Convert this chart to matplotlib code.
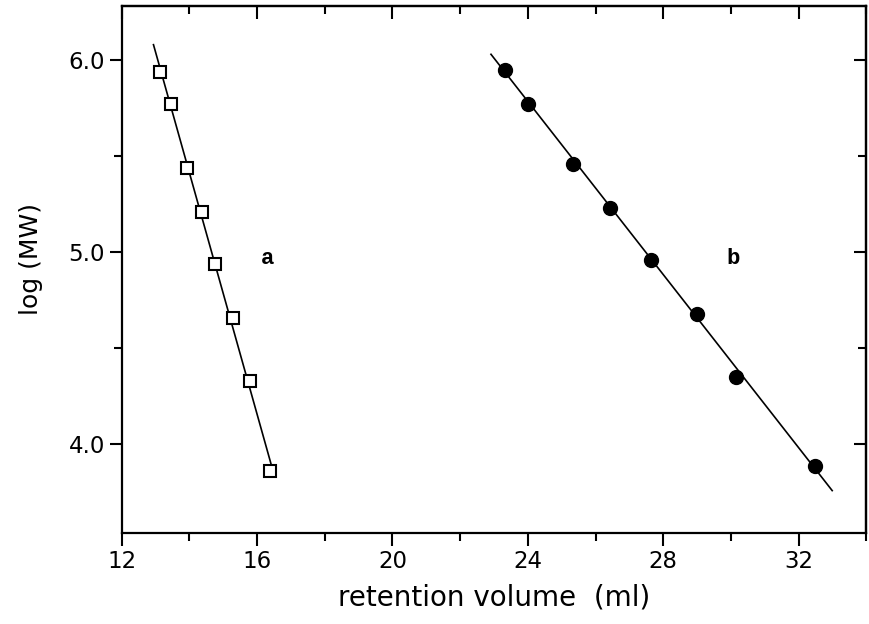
import matplotlib
matplotlib.use("Agg")
import matplotlib.pyplot as plt
from matplotlib.ticker import MultipleLocator

# Data
vol_a = [13.13, 13.45, 13.93, 14.37, 14.75, 15.28, 15.78, 16.39]
logmw_a = [5.94, 5.77, 5.44, 5.21, 4.94, 4.66, 4.33, 3.86]
vol_b = [23.31, 24.00, 25.33, 26.44, 27.64, 29.01, 30.15, 32.47]
logmw_b = [5.95, 5.77, 5.46, 5.23, 4.96, 4.68, 4.35, 3.89]
# Calibration lines (end points)
line_a_x = [12.94, 16.49]
line_a_y = [6.08, 3.85]
line_b_x = [22.91, 32.99]
line_b_y = [6.03, 3.76]

xticks = [12, 16, 20, 24, 28, 32]
yticks = [4.0, 5.0, 6.0]
ytick_labels = ["4.0", "5.0", "6.0"]

fig = plt.figure(figsize=(8.69, 6.24), dpi=100)
ax = fig.add_axes([0.140, 0.146, 0.857, 0.844])

ax.plot(line_a_x, line_a_y, color="black", lw=1.2, zorder=2)
ax.plot(line_b_x, line_b_y, color="black", lw=1.2, zorder=2)
ax.plot(vol_a, logmw_a, linestyle="none", marker="s", markersize=8.5,
        markerfacecolor="white", markeredgecolor="black", markeredgewidth=1.5, zorder=3)
ax.plot(vol_b, logmw_b, linestyle="none", marker="o", markersize=10,
        markerfacecolor="black", markeredgecolor="black", zorder=3)

ax.text(16.3, 4.97, "a", family="Liberation Mono", fontsize=16,
        fontweight="bold", ha="center", va="center")
ax.text(30.05, 4.97, "b", family="Liberation Mono", fontsize=16,
        fontweight="bold", ha="center", va="center")

ax.set_xlim(12, 34)
ax.set_ylim(3.54, 6.28)

ax.set_xticks(xticks)
ax.xaxis.set_minor_locator(MultipleLocator(2))
ax.set_yticks(yticks)
ax.set_yticklabels(ytick_labels)
ax.yaxis.set_minor_locator(MultipleLocator(0.5))

for s in ax.spines.values():
    s.set_linewidth(1.6)

ax.tick_params(which="both", direction="out", top=False, right=False,
               labelsize=16.5, width=1.5)
ax.tick_params(which="major", length=9, pad=3)
ax.tick_params(which="minor", length=6)

# Top and right ticks point inward
top = ax.secondary_xaxis("top")
top.set_xticks(xticks)
top.xaxis.set_minor_locator(MultipleLocator(2))
top.tick_params(which="both", direction="in", labeltop=False, width=1.5)
top.tick_params(which="major", length=9)
top.tick_params(which="minor", length=6)
top.spines["top"].set_linewidth(1.6)

right = ax.secondary_yaxis("right")
right.set_yticks(yticks)
right.yaxis.set_minor_locator(MultipleLocator(0.5))
right.tick_params(which="both", direction="in", labelright=False, width=1.5)
right.tick_params(which="major", length=9)
right.tick_params(which="minor", length=6)
right.spines["right"].set_linewidth(1.6)

ax.set_xlabel("retention volume  (ml)", fontsize=20, labelpad=8)
ax.set_ylabel("log (MW)", fontsize=18, labelpad=14)
ax.yaxis.set_label_coords(-0.105, 0.52)

fig.savefig("out.png", dpi=100)
